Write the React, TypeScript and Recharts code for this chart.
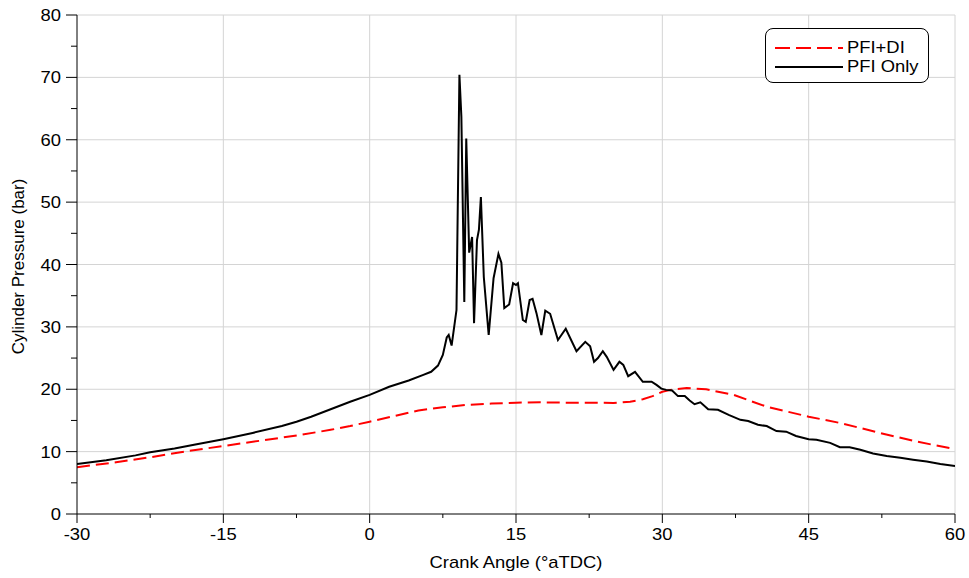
import React from 'react';
import { LineChart, Line, XAxis, YAxis, CartesianGrid, Legend } from 'recharts';

// Crank angle (°aTDC) and cylinder pressure (bar), PFI only
const pfiOnlyAngle = [
  -30, -27, -24, -22.5, -20, -18, -15, -12, -9, -7.5, -6, -4, -2, 0, 2, 4, 5.5, 6.3, 7, 7.5,
  7.9, 8.1, 8.4, 8.9, 9.2, 9.4, 9.7, 9.9, 10.2, 10.5, 10.7, 11.0, 11.2, 11.4, 11.7, 12.2, 12.7,
  13.2, 13.5, 13.8, 14.3, 14.7, 15.0, 15.2, 15.7, 16.0, 16.4, 16.7, 17.1, 17.6, 18.0, 18.5, 19.3,
  20.1, 21.2, 22.1, 22.6, 23.0, 23.4, 23.9, 24.3, 25.0, 25.6, 26.0, 26.5, 27.2, 28.0, 28.9, 29.4,
  29.9, 30.4, 31.0, 31.6, 32.3, 32.8, 33.3, 33.9, 34.7, 35.7, 36.8, 38.0, 38.8, 39.8, 40.7, 41.7,
  42.7, 43.7, 45.0, 45.8, 47.2, 48.2, 49.2, 50.3, 51.6, 53.0, 54.4, 55.7, 57.1, 58.5, 60,
];
const pfiOnlyPressure = [
  8.0, 8.6, 9.4, 9.9, 10.5, 11.1, 12.0, 13.0, 14.1, 14.8, 15.6, 16.8, 18.0, 19.1, 20.4, 21.4, 22.3, 22.8, 23.8, 25.5,
  28.3, 28.7, 27.0, 32.7, 70.4, 63.7, 34.0, 60.2, 41.9, 44.4, 30.6, 43.9, 45.6, 50.8, 38.0, 28.7, 37.8,
  41.7, 40.3, 33.0, 33.6, 37.0, 36.7, 37.0, 31.1, 30.8, 34.3, 34.5, 32.2, 28.7, 32.6, 32.1, 27.9,
  29.7, 26.1, 27.6, 26.9, 24.4, 25.0, 26.1, 25.2, 23.1, 24.4, 23.9, 22.1, 22.8, 21.2, 21.2, 20.7,
  20.1, 19.9, 19.8, 18.9, 18.9, 18.2, 17.6, 17.9, 16.8, 16.7, 15.9, 15.1, 14.9, 14.3, 14.1, 13.3,
  13.2, 12.5, 12.0, 11.9, 11.4, 10.7, 10.7, 10.3, 9.7, 9.3, 9.0, 8.7, 8.4, 8.0, 7.7,
];

// PFI+DI
const pfiDiAngle = [
  -30, -26, -22.5, -19, -15, -11, -7, -4, -2, 0, 2.5, 5, 7.5, 10, 12.5, 15, 17.5, 20, 22.5, 25,
  26.7, 28, 29, 30, 31, 32.5, 34.5, 37.3, 40.7, 45, 48.2, 52.3, 56.1, 60,
];
const pfiDiPressure = [
  7.5, 8.3, 9.1, 10.0, 10.9, 11.8, 12.7, 13.5, 14.1, 14.8, 15.7, 16.6, 17.1, 17.5, 17.7, 17.85, 17.9, 17.85, 17.85, 17.8,
  18.0, 18.4, 18.9, 19.6, 19.95, 20.2, 20.0, 19.1, 17.2, 15.6, 14.6, 13.0, 11.6, 10.4,
];

const xTicks = [-30, -22.5, -15, -7.5, 0, 7.5, 15, 22.5, 30, 37.5, 45, 52.5, 60];
const yTicks = [0, 5, 10, 15, 20, 25, 30, 35, 40, 45, 50, 55, 60, 65, 70, 75, 80];
const xGrid = [-15, 0, 15, 30, 45, 60];
const yGrid = [10, 20, 30, 40, 50, 60, 70, 80];

const seriesNames = ['PFI+DI', 'PFI Only'];

const pfiOnlyData = pfiOnlyAngle.map((angle, i) => ({ angle, p: pfiOnlyPressure[i] }));
const pfiDiData = pfiDiAngle.map((angle, i) => ({ angle, p: pfiDiPressure[i] }));

const FONT = '"Liberation Sans", Arial, sans-serif';
const STRETCH = 1.15;

const StretchedText = ({ x, y, anchor, size, children }: any) => (
  <g transform={`translate(${x},${y}) scale(${STRETCH},1)`}>
    <text x={0} y={0} textAnchor={anchor} fontFamily={FONT} fontSize={size} fill="#000">
      {children}
    </text>
  </g>
);

const XTick = (props: any) => {
  const { x, y, payload } = props;
  const major = Math.abs(payload.value % 15) < 1e-6;
  return (
    <g>
      <line x1={x} y1={y} x2={x} y2={y + (major ? 9 : 4)} stroke="#000" strokeWidth={1} />
      {major && (
        <StretchedText x={x} y={y + 26} anchor="middle" size={16}>
          {payload.value}
        </StretchedText>
      )}
    </g>
  );
};

const YTick = (props: any) => {
  const { x, y, payload } = props;
  const major = Math.abs(payload.value % 10) < 1e-6;
  return (
    <g>
      <line x1={x} y1={y} x2={x - (major ? 11 : 6)} y2={y} stroke="#000" strokeWidth={1} />
      {major && (
        <StretchedText x={x - 16} y={y + 6} anchor="end" size={16}>
          {payload.value}
        </StretchedText>
      )}
    </g>
  );
};

const XTitle = (props: any) => {
  const vb = props.viewBox;
  return (
    <StretchedText x={vb.x + vb.width / 2} y={vb.y + 54} anchor="middle" size={16}>
      Crank Angle (°aTDC)
    </StretchedText>
  );
};

const YTitle = (props: any) => {
  const vb = props.viewBox;
  const cx = vb.x + 24;
  const cy = vb.y + vb.height / 2 + 2;
  return (
    <text
      x={cx}
      y={cy}
      transform={`rotate(-90 ${cx} ${cy})`}
      textAnchor="middle"
      fontFamily={FONT}
      fontSize={17}
      fill="#000"
    >
      Cylinder Pressure (bar)
    </text>
  );
};

const LegendBox = () => (
  <div
    style={{
      width: 164,
      height: 55,
      boxSizing: 'border-box',
      border: '1px solid #000',
      borderRadius: 8,
      background: '#fff',
      position: 'relative',
    }}
  >
    <svg width={162} height={53} style={{ position: 'absolute', left: 0, top: 0 }}>
      <line x1={9} y1={19} x2={77} y2={19} stroke="#ff0000" strokeWidth={2} strokeDasharray="15 6" />
      <line x1={9} y1={38} x2={77} y2={38} stroke="#000" strokeWidth={2} />
      <g transform="translate(81,24) scale(1.15,1)">
        <text x={0} y={0} fontFamily={FONT} fontSize={16} fill="#000">
          {seriesNames[0]}
        </text>
      </g>
      <g transform="translate(81,43) scale(1.15,1)">
        <text x={0} y={0} fontFamily={FONT} fontSize={16} fill="#000">
          {seriesNames[1]}
        </text>
      </g>
    </svg>
  </div>
);

export default function App() {
  return (
    <div style={{ position: 'absolute', left: 0, top: 0, width: 969, height: 578, background: '#fff' }}>
      <LineChart width={969} height={578} margin={{ top: 15, right: 14, bottom: 0, left: 0 }}>
        <CartesianGrid
          stroke="#d4d4d4"
          strokeWidth={1}
          horizontalValues={yGrid}
          verticalValues={xGrid}
        />
        <XAxis
          type="number"
          dataKey="angle"
          domain={[-30, 60]}
          ticks={xTicks}
          interval={0}
          height={64}
          tickSize={0}
          tickMargin={0}
          tickLine={false}
          tick={<XTick />}
          axisLine={{ stroke: '#000', strokeWidth: 1 }}
          allowDataOverflow
          label={{ content: <XTitle /> }}
        />
        <YAxis
          type="number"
          domain={[0, 80]}
          ticks={yTicks}
          interval={0}
          width={77}
          tickSize={0}
          tickMargin={0}
          tickLine={false}
          tick={<YTick />}
          axisLine={{ stroke: '#000', strokeWidth: 1 }}
          allowDataOverflow
          label={{ content: <YTitle /> }}
        />
        <Legend
          layout="vertical"
          align="center"
          verticalAlign="middle"
          wrapperStyle={{ left: 765, top: 28, width: 164 }}
          content={<LegendBox />}
        />
        <Line
          data={pfiDiData}
          dataKey="p"
          name={seriesNames[0]}
          type="linear"
          stroke="#ff0000"
          strokeWidth={2}
          strokeDasharray="13 6"
          dot={false}
          isAnimationActive={false}
        />
        <Line
          data={pfiOnlyData}
          dataKey="p"
          name={seriesNames[1]}
          type="linear"
          stroke="#000"
          strokeWidth={2}
          dot={false}
          isAnimationActive={false}
        />
      </LineChart>
    </div>
  );
}
